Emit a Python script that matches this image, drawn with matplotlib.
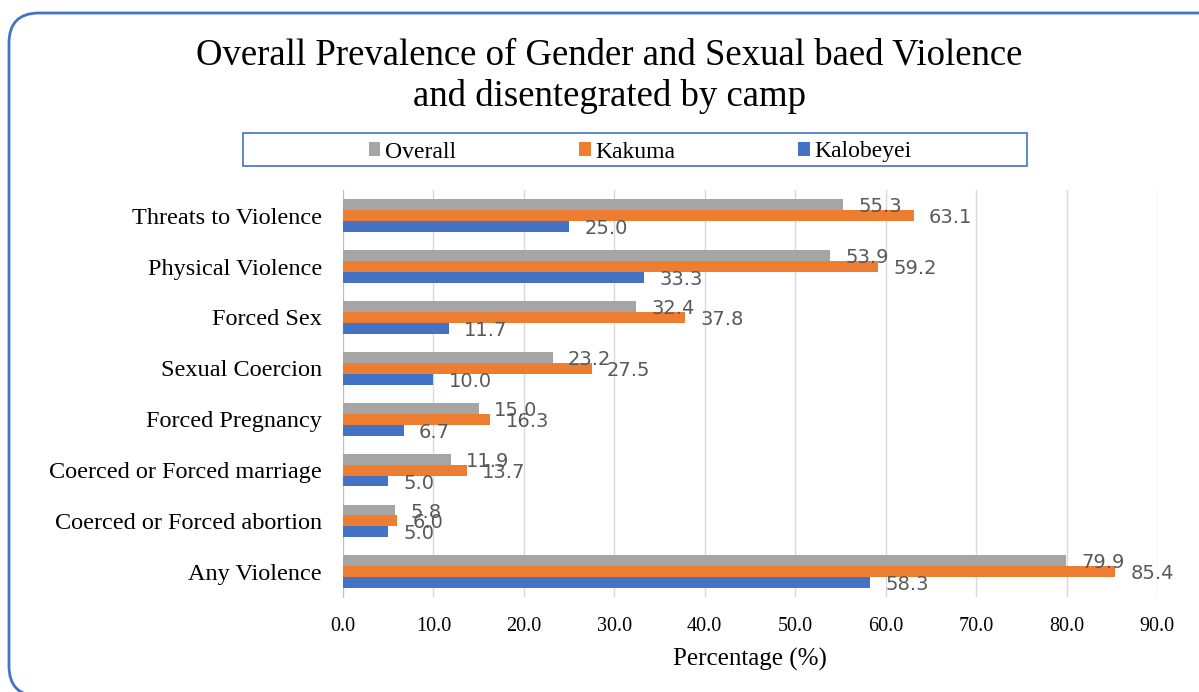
import matplotlib.pyplot as plt
import numpy as np
from matplotlib.patches import FancyBboxPatch, Rectangle

categories = ["Any Violence", "Coerced or Forced abortion", "Coerced or Forced marriage",
              "Forced Pregnancy", "Sexual Coercion", "Forced Sex",
              "Physical Violence", "Threats to Violence"]
overall = [79.9, 5.8, 11.9, 15.0, 23.2, 32.4, 53.9, 55.3]
kakuma = [85.4, 6.0, 13.7, 16.3, 27.5, 37.8, 59.2, 63.1]
kalobeyei = [58.3, 5.0, 5.0, 6.7, 10.0, 11.7, 33.3, 25.0]
xticks = np.arange(0, 91, 10)

serif = "Liberation Serif"
fig = plt.figure(figsize=(11.99, 6.92), dpi=100)
ax = fig.add_axes([0.286, 0.137, 0.679, 0.588])

y = np.arange(len(categories))
h = 0.215
series = [(overall, "#A5A5A5", "Overall", h), (kakuma, "#ED7D31", "Kakuma", 0),
          (kalobeyei, "#4472C4", "Kalobeyei", -h)]
for vals, col, name, off in series:
    bars = ax.barh(y + off, vals, height=h, color=col, label=name, zorder=3)
    for b, v in zip(bars, vals):
        ax.annotate(f"{v:.1f}", (v, b.get_y() + h / 2), xytext=(11, -1.5),
                    textcoords="offset points", va="center", ha="left",
                    fontsize=14, color="#595959", family="DejaVu Sans", zorder=4)

ax.set_xlim(0, 90)
ax.set_ylim(-0.5, 7.5)
ax.set_xticks(xticks)
ax.set_xticklabels([f"{t:.1f}" for t in xticks], family=serif, fontsize=14.5)
ax.set_yticks(y)
ax.set_yticklabels(categories, family=serif, fontsize=17.5)
ax.tick_params(axis="y", length=0, pad=15)
ax.tick_params(axis="x", length=0, pad=14)
ax.grid(axis="x", color="#D9D9D9", linewidth=1, zorder=0)
for s in ["top", "right", "bottom"]:
    ax.spines[s].set_visible(False)
ax.spines["left"].set_color("#BFBFBF")
ax.set_xlabel("Percentage (%)", family=serif, fontsize=18, labelpad=9)

fig.text(0.508, 0.89, "Overall Prevalence of Gender and Sexual baed Violence\nand disentegrated by camp",
         ha="center", va="center", family=serif, fontsize=26.5, linespacing=1.22)

# legend box
fig.patches.append(Rectangle((243 / 1199, 1 - 166 / 692), 784 / 1199, 33 / 692,
                             transform=fig.transFigure, fill=False,
                             edgecolor="#4472C4", linewidth=1.2))
handles, labels = ax.get_legend_handles_labels()
fig.legend(handles, labels, loc="center", bbox_to_anchor=(0.534, 1 - 152 / 692),
           ncol=3, frameon=False, prop={"family": serif, "size": 17},
           handlelength=0.5, handleheight=0.5, handletextpad=0.2, columnspacing=5.2)

# outer rounded frame
fig.patches.append(FancyBboxPatch((0.09, -0.04), 12.3, 6.83,
                                  boxstyle="round,pad=0,rounding_size=0.3",
                                  transform=fig.dpi_scale_trans, fill=False,
                                  edgecolor="#4472C4", linewidth=2))

fig.savefig("out.png", dpi=100)
